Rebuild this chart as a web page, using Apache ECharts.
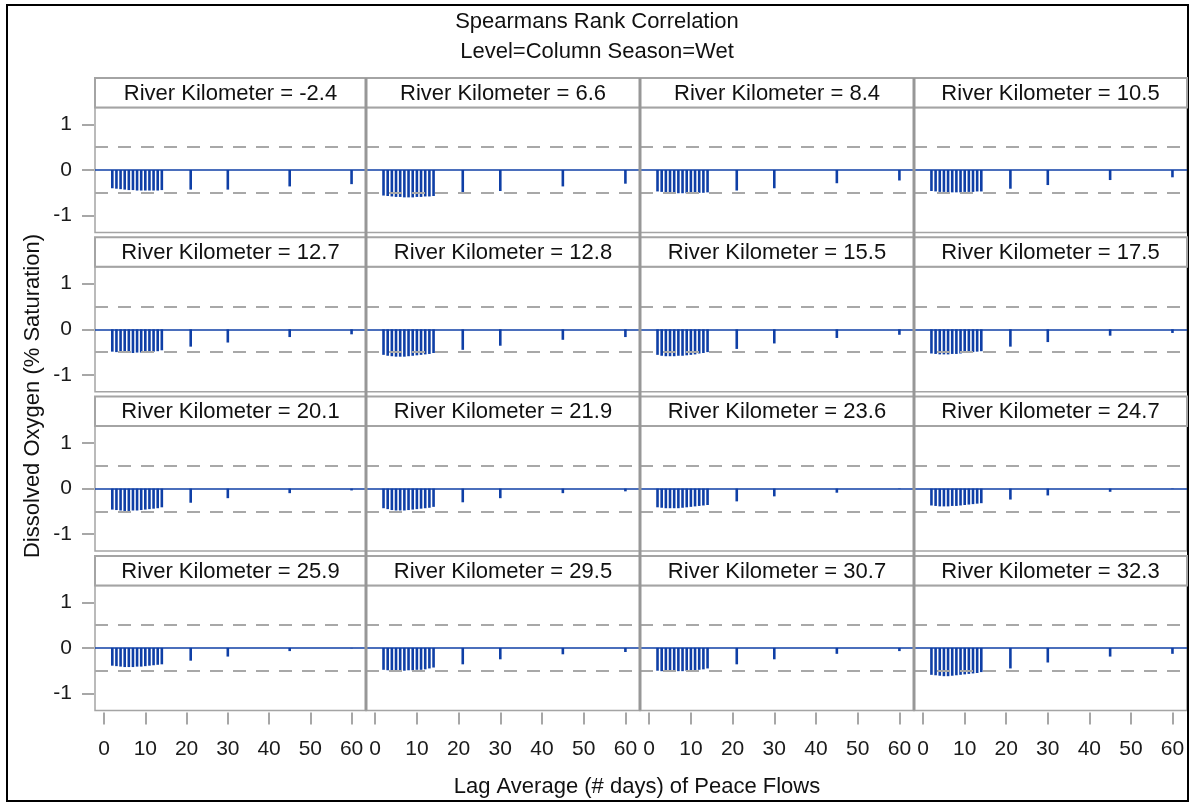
<!DOCTYPE html>
<html>
<head>
<meta charset="utf-8">
<script src="https://cdn.jsdelivr.net/npm/echarts@6/dist/echarts.min.js"></script>
<style>
  html, body { margin: 0; padding: 0; background: #fff; }
  #chart { width: 1190px; height: 803px; }
</style>
</head>
<body>
<div id="chart"></div>
<script>
// Lag averages (days) at which the rank correlation was computed
const lags = [2, 3, 4, 5, 6, 7, 8, 9, 10, 11, 12, 13, 14, 21, 30, 45, 60];

// Panel labels, in lattice order (row by row)
const riverKm = ['-2.4', '6.6', '8.4', '10.5', '12.7', '12.8', '15.5', '17.5',
                 '20.1', '21.9', '23.6', '24.7', '25.9', '29.5', '30.7', '32.3'];

// Spearman rho of dissolved oxygen vs. lagged Peace flows, one array per station
const rho_km_m2_4 = [-0.40, -0.41, -0.42, -0.43, -0.44, -0.44, -0.45, -0.45, -0.45, -0.45, -0.45, -0.45, -0.44, -0.43, -0.43, -0.36, -0.31];
const rho_km_6_6  = [-0.56, -0.57, -0.58, -0.59, -0.59, -0.60, -0.60, -0.60, -0.59, -0.59, -0.58, -0.58, -0.57, -0.52, -0.46, -0.36, -0.30];
const rho_km_8_4  = [-0.47, -0.48, -0.49, -0.50, -0.50, -0.51, -0.51, -0.51, -0.51, -0.50, -0.50, -0.50, -0.49, -0.45, -0.40, -0.29, -0.23];
const rho_km_10_5 = [-0.46, -0.47, -0.48, -0.48, -0.49, -0.49, -0.49, -0.49, -0.48, -0.48, -0.48, -0.47, -0.47, -0.41, -0.33, -0.22, -0.16];
const rho_km_12_7 = [-0.49, -0.50, -0.51, -0.52, -0.52, -0.52, -0.51, -0.51, -0.50, -0.50, -0.49, -0.48, -0.46, -0.38, -0.29, -0.17, -0.11];
const rho_km_12_8 = [-0.56, -0.58, -0.59, -0.60, -0.60, -0.60, -0.59, -0.58, -0.57, -0.56, -0.55, -0.54, -0.52, -0.45, -0.36, -0.23, -0.17];
const rho_km_15_5 = [-0.56, -0.58, -0.59, -0.59, -0.59, -0.58, -0.58, -0.57, -0.56, -0.55, -0.53, -0.52, -0.50, -0.43, -0.31, -0.19, -0.12];
const rho_km_17_5 = [-0.53, -0.54, -0.55, -0.55, -0.55, -0.54, -0.54, -0.53, -0.52, -0.51, -0.50, -0.49, -0.48, -0.38, -0.28, -0.14, -0.08];
const rho_km_20_1 = [-0.46, -0.47, -0.48, -0.49, -0.49, -0.48, -0.48, -0.47, -0.46, -0.45, -0.44, -0.43, -0.41, -0.31, -0.21, -0.10, -0.04];
const rho_km_21_9 = [-0.43, -0.45, -0.47, -0.48, -0.48, -0.48, -0.47, -0.46, -0.45, -0.44, -0.43, -0.42, -0.40, -0.30, -0.21, -0.10, -0.06];
const rho_km_23_6 = [-0.41, -0.42, -0.43, -0.43, -0.43, -0.43, -0.42, -0.41, -0.40, -0.39, -0.38, -0.37, -0.36, -0.28, -0.17, -0.09, -0.01];
const rho_km_24_7 = [-0.37, -0.38, -0.39, -0.39, -0.39, -0.38, -0.38, -0.37, -0.36, -0.35, -0.34, -0.33, -0.32, -0.24, -0.15, -0.07, -0.01];
const rho_km_25_9 = [-0.39, -0.40, -0.41, -0.42, -0.42, -0.42, -0.41, -0.41, -0.40, -0.39, -0.38, -0.37, -0.36, -0.28, -0.19, -0.07, -0.01];
const rho_km_29_5 = [-0.48, -0.49, -0.50, -0.50, -0.50, -0.50, -0.49, -0.49, -0.48, -0.48, -0.47, -0.45, -0.43, -0.36, -0.25, -0.14, -0.09];
const rho_km_30_7 = [-0.50, -0.51, -0.52, -0.52, -0.52, -0.51, -0.51, -0.50, -0.50, -0.49, -0.48, -0.47, -0.45, -0.36, -0.25, -0.13, -0.07];
const rho_km_32_3 = [-0.59, -0.60, -0.61, -0.62, -0.62, -0.61, -0.60, -0.59, -0.58, -0.57, -0.56, -0.55, -0.53, -0.45, -0.32, -0.19, -0.13];

// Axis tick values
const xTicks = [0, 10, 20, 30, 40, 50, 60];
const yTicks = [-1, 0, 1];
// Significance reference lines
const refLines = [-0.5, 0.5];

const panelValues = [
  rho_km_m2_4, rho_km_6_6, rho_km_8_4, rho_km_10_5,
  rho_km_12_7, rho_km_12_8, rho_km_15_5, rho_km_17_5,
  rho_km_20_1, rho_km_21_9, rho_km_23_6, rho_km_24_7,
  rho_km_25_9, rho_km_29_5, rho_km_30_7, rho_km_32_3
];

// ---- lattice geometry ----
const FONT = '"Liberation Sans", Arial, sans-serif';
const colEdges = [95, 366, 640, 914, 1187];
const firstHeaderTop = 78;
const rowPitch = 159.3;
const headerH = 29.5;
const panelH = 125;
const needleColor = '#0f3fa6';
const frameGray = '#a4a4a4';

const grids = [], xAxes = [], yAxes = [], series = [], graphics = [];

for (let p = 0; p < 16; p++) {
  const r = Math.floor(p / 4), c = p % 4;
  const left = colEdges[c], right = colEdges[c + 1];
  const hTop = firstHeaderTop + r * rowPitch;
  const pTop = hTop + headerH;

  grids.push({
    left: left, top: pTop, width: right - left, height: panelH,
    show: true, borderColor: frameGray, borderWidth: 1.5, backgroundColor: '#fff'
  });

  const bottomRow = r === 3, leftCol = c === 0;
  xAxes.push({
    gridIndex: p, type: 'value', min: -2.2, max: 63.5, offset: 2, position: 'bottom',
    axisLine: { show: false, onZero: false },
    splitLine: { show: false },
    axisTick: { show: bottomRow, length: 12, customValues: xTicks,
                lineStyle: { color: '#8a8a8a', width: 1.5 } },
    axisLabel: { show: bottomRow, customValues: xTicks, margin: 26,
                 fontSize: 21, fontFamily: FONT, color: '#1a1a1a' }
  });
  yAxes.push({
    gridIndex: p, type: 'value', min: -1.37, max: 1.37, offset: 1, position: 'left',
    axisLine: { show: false, onZero: false },
    splitLine: { show: false },
    axisTick: { show: leftCol, length: 12, customValues: yTicks,
                lineStyle: { color: '#8a8a8a', width: 1.5 } },
    axisLabel: { show: leftCol, customValues: yTicks, margin: 22,
                 fontSize: 21, fontFamily: FONT, color: '#1a1a1a' }
  });

  series.push({
    type: 'bar', xAxisIndex: p, yAxisIndex: p,
    barWidth: 2.6, silent: true,
    itemStyle: { color: needleColor },
    data: lags.map((lag, i) => [lag, panelValues[p][i]]),
    markLine: {
      silent: true, symbol: 'none', label: { show: false },
      data: [
        { yAxis: refLines[0], lineStyle: { color: '#a8a8a8', type: [13, 10], width: 2 } },
        { yAxis: refLines[1], lineStyle: { color: '#a8a8a8', type: [13, 10], width: 2 } },
        { yAxis: 0, lineStyle: { color: needleColor, type: 'solid', width: 1.6 } }
      ]
    }
  });

  // panel header cell
  graphics.push({
    type: 'rect', silent: true, z: 10,
    shape: { x: left, y: hTop, width: right - left, height: headerH },
    style: { fill: '#fff', stroke: frameGray, lineWidth: 2 }
  });
  graphics.push({
    type: 'text', silent: true, z: 11,
    x: (left + right) / 2, y: hTop + headerH / 2 + 1,
    style: { text: 'River Kilometer = ' + riverKm[p], font: '22px ' + FONT,
             fill: '#111', align: 'center', verticalAlign: 'middle' }
  });
}

// heavier column separators
for (let c = 1; c < 4; c++) {
  graphics.push({
    type: 'line', silent: true, z: 12,
    shape: { x1: colEdges[c], y1: firstHeaderTop, x2: colEdges[c],
             y2: firstHeaderTop + 3 * rowPitch + headerH + panelH },
    style: { stroke: '#979797', lineWidth: 3 }
  });
}

// outer frame
graphics.push({
  type: 'rect', silent: true, z: 0,
  shape: { x: 7, y: 5, width: 1181, height: 796 },
  style: { fill: 'none', stroke: '#000', lineWidth: 2 }
});

// titles
graphics.push({
  type: 'text', silent: true, z: 11, x: 597, y: 22,
  style: { text: 'Spearmans Rank Correlation', font: '22px ' + FONT,
           fill: '#111', align: 'center', verticalAlign: 'middle' }
});
graphics.push({
  type: 'text', silent: true, z: 11, x: 597, y: 52,
  style: { text: 'Level=Column Season=Wet', font: '22px ' + FONT,
           fill: '#111', align: 'center', verticalAlign: 'middle' }
});
graphics.push({
  type: 'text', silent: true, z: 11, x: 637, y: 787,
  style: { text: 'Lag Average (# days) of Peace Flows', font: '22px ' + FONT,
           fill: '#111', align: 'center', verticalAlign: 'middle' }
});
graphics.push({
  type: 'text', silent: true, z: 11, x: 33, y: 396, rotation: Math.PI / 2,
  style: { text: 'Dissolved Oxygen (% Saturation)', font: '22px ' + FONT,
           fill: '#111', align: 'center', verticalAlign: 'middle' }
});

const chart = echarts.init(document.getElementById('chart'), null, { renderer: 'canvas' });
chart.setOption({
  animation: false,
  backgroundColor: '#fff',
  grid: grids,
  xAxis: xAxes,
  yAxis: yAxes,
  series: series,
  graphic: graphics
});
</script>
</body>
</html>
